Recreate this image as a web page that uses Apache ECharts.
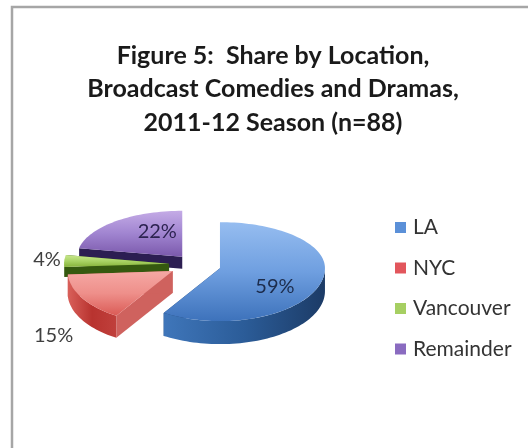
<!DOCTYPE html>
<html>
<head>
<meta charset="utf-8">
<style>html,body{margin:0;padding:0;background:#fff}#c{width:528px;height:448px}</style>
<script src="https://cdn.jsdelivr.net/npm/echarts@6/dist/echarts.min.js"></script>
</head>
<body>
<div id="c"></div>
<script>
const categories = ['LA', 'NYC', 'Vancouver', 'Remainder'];
const shares = [59, 15, 4, 22];
const titleLines = ['Figure 5:  Share by Location,', 'Broadcast Comedies and Dramas,', '2011-12 Season (n=88)'];

const FONT = 'Lato';
const PIE = {cx: 195, cy: 264.5, rx: 105, ryTop: 46, ryBottom: 53};
const explode = [26, 26, 26, 20];
const depth = [23, 22, 10, 12];
const labelOffset = [[55, 18], [-119, 64], [-122, -4], [-25, -25]];
const labelColor = ['#1c2c4c', '#404040', '#404040', '#2c2350'];
const zOrder = [4, 3, 2, 1];

const grad = (x2, y2, stops) => ({type: 'linear', x: 0, y: 0, x2, y2,
  colorStops: stops.map((c, i) => ({offset: i / (stops.length - 1), color: c}))});
const topFill = [
  ['#96bdf0', '#6f9fe0', '#3d72bb'], ['#f5a8a4', '#ee8f8a', '#da5a55'],
  ['#c9e78e', '#a9d365', '#86b23a'], ['#c4abe6', '#a084d0', '#7a58ab']];
const wallFill = [
  ['#3f76ba', '#2b5c98', '#1c3b66'], ['#d9605a', '#b8332f', '#c0403c'],
  ['#4a7a18', '#3a6410', '#2f520c'], ['#3b2a66', '#30215a', '#281b4d']];
const cutFill = ['#1f4576', '#cf625e', '#35590f', '#2c1e52'];
const legendFill = ['#5b90d8', '#e2565c', '#a6cf62', '#8a6bc0'];

const total = shares.reduce((a, b) => a + b, 0);
const toRad = Math.PI / 180;

function sliceGeometry(i) {
  const before = shares.slice(0, i).reduce((a, b) => a + b, 0);
  const a0 = before / total * 360;
  const a1 = (before + shares[i]) / total * 360;
  const mid = (a0 + a1) / 2 * toRad;
  const cx = PIE.cx + explode[i] * Math.sin(mid);
  const cy = PIE.cy - explode[i] * Math.cos(mid) * 0.5;
  return {a0, a1, cx, cy};
}
function rim(g, deg, dy) {
  const t = deg * toRad, u = Math.sin(t), v = -Math.cos(t);
  return [g.cx + PIE.rx * u, g.cy + v * (v > 0 ? PIE.ryBottom : PIE.ryTop) + (dy || 0)];
}
function arc(g, from, to, dy) {
  const pts = [], n = Math.max(2, Math.ceil(Math.abs(to - from) / 2));
  for (let k = 0; k <= n; k++) pts.push(rim(g, from + (to - from) * k / n, dy));
  return pts;
}
function renderSlice(i) {
  return function (params, api) {
    const g = sliceGeometry(i), d = depth[i], children = [];
    const apex = [g.cx, g.cy], apexLow = [g.cx, g.cy + d];
    [g.a0, g.a1].forEach(a => {
      const r = rim(g, a), rl = rim(g, a, d);
      children.push({type: 'polygon', shape: {points: [apex, r, rl, apexLow]},
        style: {fill: cutFill[i]}});
    });
    const f0 = Math.max(g.a0, 90), f1 = Math.min(g.a1, 270);
    if (f1 > f0) {
      const pts = arc(g, f0, f1, 0).concat(arc(g, f1, f0, d));
      children.push({type: 'polygon', shape: {points: pts},
        style: {fill: grad(1, 0, wallFill[i])}});
    }
    children.push({type: 'polygon',
      shape: {points: [apex].concat(arc(g, g.a0, g.a1, 0))},
      style: {fill: grad(0, 1, topFill[i])}});
    children.push({type: 'text', z2: 10, style: {
      x: g.cx + labelOffset[i][0], y: g.cy + labelOffset[i][1],
      text: api.value(0) + '%', font: '20px ' + FONT, fill: labelColor[i],
      align: 'center', verticalAlign: 'middle'}});
    return {type: 'group', children};
  };
}

const chart = echarts.init(document.getElementById('c'), null, {renderer: 'canvas'});
chart.setOption({
  animation: false,
  backgroundColor: '#fff',
  graphic: [{type: 'rect', silent: true, z: -1,
    shape: {x: 12, y: 7, width: 700, height: 700},
    style: {fill: '#fff', stroke: '#a6a6a6', lineWidth: 2.5}}],
  title: {
    text: titleLines.join('\n'), left: 273, top: 39, padding: 0, textAlign: 'center',
    textStyle: {fontFamily: FONT, fontWeight: 'bold', fontSize: 25, lineHeight: 33.5, color: '#1a1a1a'}
  },
  legend: {
    orient: 'vertical', left: 390, top: 212, itemGap: 19.5, itemWidth: 11, itemHeight: 11,
    icon: 'rect', data: categories, selectedMode: false,
    textStyle: {fontFamily: FONT, fontSize: 21, color: '#333', padding: [0, 0, 0, 2], lineHeight: 21}
  },
  series: categories.map((name, i) => ({
    type: 'custom', name, coordinateSystem: 'none', z: zOrder[i],
    itemStyle: {color: legendFill[i]},
    renderItem: renderSlice(i), data: [[shares[i]]]
  }))
});
</script>
</body>
</html>
